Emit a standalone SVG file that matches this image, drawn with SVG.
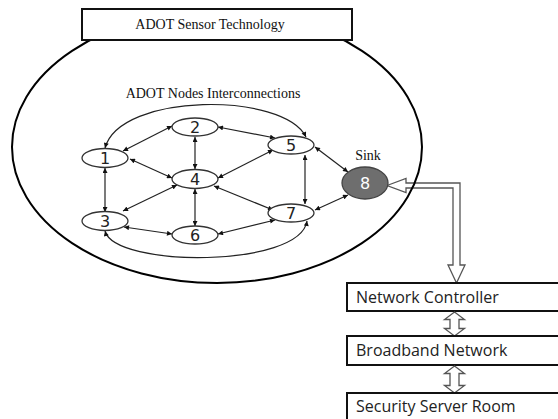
<svg xmlns="http://www.w3.org/2000/svg" width="558" height="419" viewBox="0 0 558 419">
  <style>
    .serif { font-family: "Liberation Serif", "Times New Roman", serif; font-size: 14px; fill: #111; }
    .num { font-family: "DejaVu Sans", Verdana, sans-serif; font-size: 16px; fill: #222; text-anchor: middle; }
    .node { fill: #fff; stroke: #333; stroke-width: 1.3; }
    .edge { fill: none; stroke: #222; stroke-width: 1.2; marker-start: url(#tip); marker-end: url(#tip); }
    .hollow { fill: #fff; stroke: #555; stroke-width: 1.3; }
    .box { fill: #fff; stroke: #111; stroke-width: 2; }
    .label { font-family: "Open Sans", "Liberation Sans", sans-serif; font-size: 16px; fill: #222; }
  </style>
  <defs>
    <marker id="tip" viewBox="0 0 10 10" refX="10" refY="5" markerWidth="6" markerHeight="5" markerUnits="userSpaceOnUse" orient="auto-start-reverse">
      <path d="M0,0 L10,5 L0,10 Z" fill="#111"/>
    </marker>
  </defs>

  <rect width="558" height="419" fill="#fff"/>

  <!-- hollow link from the sink down to the controller -->
  <g id="uplink">
    <path class="hollow" d="M387,185.5 L406,178.5 L406,183 L460,183 L460,265 L465,265 L456.5,283 L448,265 L453,265 L453,188 L406,188 L406,192.5 Z"/>
  </g>

  <!-- sensor field boundary -->
  <g id="field">
    <ellipse cx="217" cy="147" rx="205" ry="136" fill="none" stroke="#000" stroke-width="2"/>
  </g>

  <g id="title">
    <rect class="box" x="82" y="9" width="270" height="31" stroke-width="1.5"/>
    <text class="serif" x="210" y="29" text-anchor="middle">ADOT Sensor Technology</text>
  </g>

  <g id="subtitle">
    <text class="serif" x="213" y="98" text-anchor="middle">ADOT Nodes Interconnections</text>
  </g>

  <!-- links between nodes -->
  <g id="connectors">
    <path class="edge" d="M105,148 C120,92 284,92 306,137"/>
    <path class="edge" d="M105,231 C115,268 300,268 307,221"/>
    <line class="edge" x1="123" y1="151" x2="172" y2="126"/>
    <line class="edge" x1="130" y1="159" x2="172" y2="178"/>
    <line class="edge" x1="105" y1="168" x2="105" y2="212"/>
    <line class="edge" x1="195" y1="137" x2="195" y2="169"/>
    <line class="edge" x1="218" y1="127" x2="275" y2="138"/>
    <line class="edge" x1="218" y1="178" x2="273" y2="150"/>
    <line class="edge" x1="177" y1="185" x2="123" y2="211"/>
    <line class="edge" x1="195" y1="189" x2="195" y2="226"/>
    <line class="edge" x1="214" y1="186" x2="273" y2="210"/>
    <line class="edge" x1="124" y1="227" x2="172" y2="234"/>
    <line class="edge" x1="218" y1="234" x2="275" y2="220"/>
    <line class="edge" x1="305" y1="155" x2="305" y2="204"/>
    <line class="edge" x1="315" y1="147" x2="348" y2="172"/>
    <line class="edge" x1="315" y1="210" x2="348" y2="195"/>
  </g>

  <g id="n1"><ellipse class="node" cx="105" cy="158" rx="23" ry="9.5"/><text class="num" x="105" y="164">1</text></g>
  <g id="n2"><ellipse class="node" cx="195" cy="127" rx="23" ry="9"/><text class="num" x="195" y="133">2</text></g>
  <g id="n3"><ellipse class="node" cx="105" cy="221" rx="23" ry="9.5"/><text class="num" x="105" y="227">3</text></g>
  <g id="n4"><ellipse class="node" cx="195" cy="179" rx="23" ry="9.5"/><text class="num" x="195" y="185">4</text></g>
  <g id="n5"><ellipse class="node" cx="291" cy="145" rx="23" ry="9"/><text class="num" x="291" y="151">5</text></g>
  <g id="n6"><ellipse class="node" cx="195" cy="235" rx="23" ry="9"/><text class="num" x="195" y="241">6</text></g>
  <g id="n7"><ellipse class="node" cx="291" cy="213" rx="23" ry="9"/><text class="num" x="291" y="219">7</text></g>
  <g id="n8">
    <ellipse cx="365" cy="183" rx="23" ry="16" fill="#6e6e6e" stroke="#444" stroke-width="1.3"/>
    <text class="num" x="365" y="189" style="fill:#fff">8</text>
    <text class="serif" x="368" y="160" text-anchor="middle">Sink</text>
  </g>

  <g id="controller">
    <rect class="box" x="347" y="283" width="220" height="28"/>
    <text class="label" x="356" y="303">Network Controller</text>
  </g>
  <g id="link-a">
    <path class="hollow" d="M454.5,312 L464.5,319.5 L459,319.5 L459,328.5 L464.5,328.5 L454.5,336 L444.5,328.5 L450,328.5 L450,319.5 L444.5,319.5 Z"/>
  </g>
  <g id="broadband">
    <rect class="box" x="347" y="336" width="220" height="29"/>
    <text class="label" x="356" y="356">Broadband Network</text>
  </g>
  <g id="link-b">
    <path class="hollow" d="M454.5,366 L464.5,373.5 L459,373.5 L459,385.5 L464.5,385.5 L454.5,393 L444.5,385.5 L450,385.5 L450,373.5 L444.5,373.5 Z"/>
  </g>
  <g id="server">
    <rect class="box" x="347" y="393" width="220" height="40"/>
    <text class="label" x="356" y="412">Security Server Room</text>
  </g>
</svg>
